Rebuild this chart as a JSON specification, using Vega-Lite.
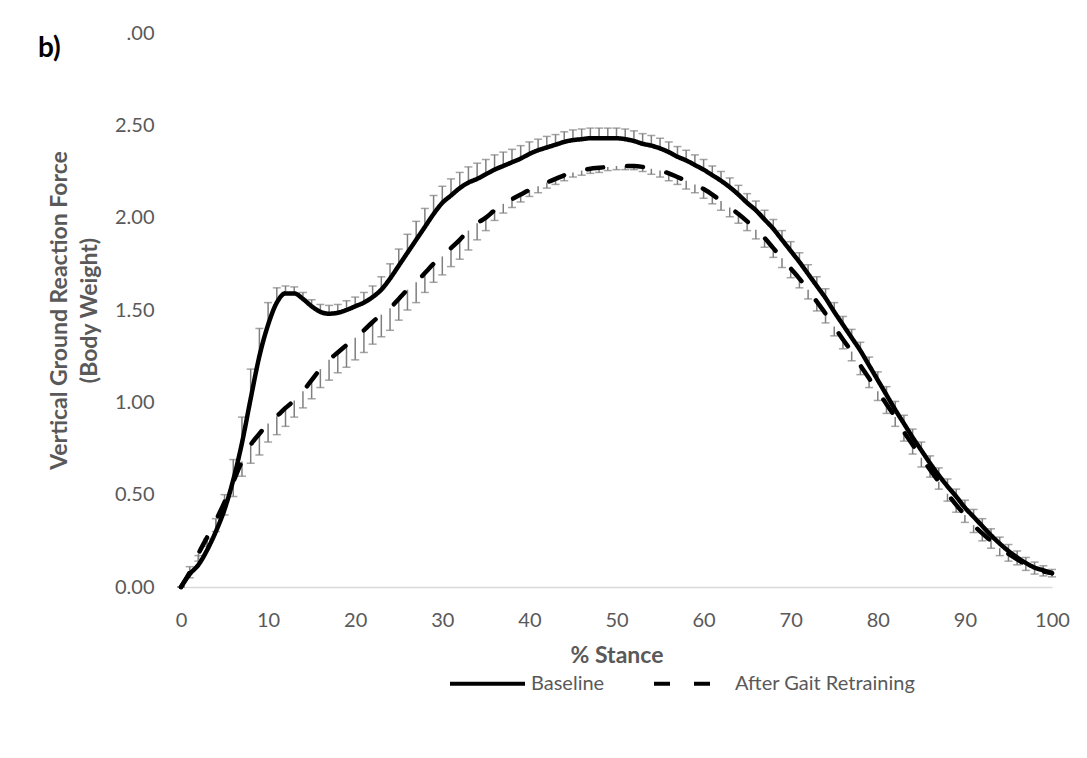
{
  "$schema": "https://vega.github.io/schema/vega-lite/v6.json",
  "width": 871,
  "height": 554,
  "autosize": {"type": "none"},
  "padding": {"left": 181, "top": 33, "right": 35, "bottom": 171},
  "background": "white",
  "config": {"view": {"stroke": null}, "font": "Lato"},
  "title": {"text": "b)", "anchor": "start", "frame": "group", "orient": "top", "offset": 0, "baseline": "alphabetic", "dx": -143, "dy": 62, "fontSize": 28, "fontWeight": "bold", "color": "#000000", "font": "Lato"},
  "datasets": {
    "grf": [
      {"pct":0,"series":"Baseline","force":0.00,"sd":0},
      {"pct":1,"series":"Baseline","force":0.07,"sd":0.04},
      {"pct":2,"series":"Baseline","force":0.12,"sd":0.05},
      {"pct":3,"series":"Baseline","force":0.20,"sd":0.06},
      {"pct":4,"series":"Baseline","force":0.30,"sd":0.07},
      {"pct":5,"series":"Baseline","force":0.42,"sd":0.08},
      {"pct":6,"series":"Baseline","force":0.58,"sd":0.11},
      {"pct":7,"series":"Baseline","force":0.78,"sd":0.14},
      {"pct":8,"series":"Baseline","force":1.02,"sd":0.16},
      {"pct":9,"series":"Baseline","force":1.25,"sd":0.15},
      {"pct":10,"series":"Baseline","force":1.42,"sd":0.12},
      {"pct":11,"series":"Baseline","force":1.54,"sd":0.08},
      {"pct":12,"series":"Baseline","force":1.59,"sd":0.04},
      {"pct":13,"series":"Baseline","force":1.59,"sd":0.035},
      {"pct":14,"series":"Baseline","force":1.56,"sd":0.035},
      {"pct":15,"series":"Baseline","force":1.52,"sd":0.035},
      {"pct":16,"series":"Baseline","force":1.49,"sd":0.04},
      {"pct":17,"series":"Baseline","force":1.48,"sd":0.045},
      {"pct":18,"series":"Baseline","force":1.485,"sd":0.045},
      {"pct":19,"series":"Baseline","force":1.50,"sd":0.05},
      {"pct":20,"series":"Baseline","force":1.52,"sd":0.05},
      {"pct":21,"series":"Baseline","force":1.54,"sd":0.055},
      {"pct":22,"series":"Baseline","force":1.57,"sd":0.06},
      {"pct":23,"series":"Baseline","force":1.61,"sd":0.07},
      {"pct":24,"series":"Baseline","force":1.67,"sd":0.08},
      {"pct":25,"series":"Baseline","force":1.74,"sd":0.09},
      {"pct":26,"series":"Baseline","force":1.81,"sd":0.10},
      {"pct":27,"series":"Baseline","force":1.88,"sd":0.10},
      {"pct":28,"series":"Baseline","force":1.95,"sd":0.10},
      {"pct":29,"series":"Baseline","force":2.02,"sd":0.10},
      {"pct":30,"series":"Baseline","force":2.08,"sd":0.09},
      {"pct":31,"series":"Baseline","force":2.12,"sd":0.09},
      {"pct":32,"series":"Baseline","force":2.16,"sd":0.085},
      {"pct":33,"series":"Baseline","force":2.19,"sd":0.085},
      {"pct":34,"series":"Baseline","force":2.21,"sd":0.085},
      {"pct":35,"series":"Baseline","force":2.235,"sd":0.08},
      {"pct":36,"series":"Baseline","force":2.26,"sd":0.08},
      {"pct":37,"series":"Baseline","force":2.28,"sd":0.075},
      {"pct":38,"series":"Baseline","force":2.30,"sd":0.07},
      {"pct":39,"series":"Baseline","force":2.32,"sd":0.07},
      {"pct":40,"series":"Baseline","force":2.345,"sd":0.065},
      {"pct":41,"series":"Baseline","force":2.365,"sd":0.06},
      {"pct":42,"series":"Baseline","force":2.38,"sd":0.06},
      {"pct":43,"series":"Baseline","force":2.395,"sd":0.055},
      {"pct":44,"series":"Baseline","force":2.41,"sd":0.055},
      {"pct":45,"series":"Baseline","force":2.42,"sd":0.055},
      {"pct":46,"series":"Baseline","force":2.425,"sd":0.055},
      {"pct":47,"series":"Baseline","force":2.43,"sd":0.055},
      {"pct":48,"series":"Baseline","force":2.43,"sd":0.055},
      {"pct":49,"series":"Baseline","force":2.43,"sd":0.055},
      {"pct":50,"series":"Baseline","force":2.43,"sd":0.055},
      {"pct":51,"series":"Baseline","force":2.425,"sd":0.055},
      {"pct":52,"series":"Baseline","force":2.415,"sd":0.055},
      {"pct":53,"series":"Baseline","force":2.40,"sd":0.055},
      {"pct":54,"series":"Baseline","force":2.39,"sd":0.055},
      {"pct":55,"series":"Baseline","force":2.375,"sd":0.055},
      {"pct":56,"series":"Baseline","force":2.355,"sd":0.055},
      {"pct":57,"series":"Baseline","force":2.33,"sd":0.055},
      {"pct":58,"series":"Baseline","force":2.31,"sd":0.055},
      {"pct":59,"series":"Baseline","force":2.285,"sd":0.055},
      {"pct":60,"series":"Baseline","force":2.26,"sd":0.055},
      {"pct":61,"series":"Baseline","force":2.23,"sd":0.05},
      {"pct":62,"series":"Baseline","force":2.20,"sd":0.05},
      {"pct":63,"series":"Baseline","force":2.165,"sd":0.05},
      {"pct":64,"series":"Baseline","force":2.125,"sd":0.05},
      {"pct":65,"series":"Baseline","force":2.08,"sd":0.05},
      {"pct":66,"series":"Baseline","force":2.04,"sd":0.05},
      {"pct":67,"series":"Baseline","force":1.99,"sd":0.05},
      {"pct":68,"series":"Baseline","force":1.94,"sd":0.05},
      {"pct":69,"series":"Baseline","force":1.88,"sd":0.05},
      {"pct":70,"series":"Baseline","force":1.82,"sd":0.05},
      {"pct":71,"series":"Baseline","force":1.76,"sd":0.05},
      {"pct":72,"series":"Baseline","force":1.695,"sd":0.05},
      {"pct":73,"series":"Baseline","force":1.63,"sd":0.05},
      {"pct":74,"series":"Baseline","force":1.565,"sd":0.05},
      {"pct":75,"series":"Baseline","force":1.49,"sd":0.05},
      {"pct":76,"series":"Baseline","force":1.42,"sd":0.045},
      {"pct":77,"series":"Baseline","force":1.35,"sd":0.045},
      {"pct":78,"series":"Baseline","force":1.28,"sd":0.045},
      {"pct":79,"series":"Baseline","force":1.20,"sd":0.045},
      {"pct":80,"series":"Baseline","force":1.12,"sd":0.045},
      {"pct":81,"series":"Baseline","force":1.04,"sd":0.045},
      {"pct":82,"series":"Baseline","force":0.96,"sd":0.045},
      {"pct":83,"series":"Baseline","force":0.885,"sd":0.045},
      {"pct":84,"series":"Baseline","force":0.81,"sd":0.045},
      {"pct":85,"series":"Baseline","force":0.74,"sd":0.045},
      {"pct":86,"series":"Baseline","force":0.67,"sd":0.04},
      {"pct":87,"series":"Baseline","force":0.605,"sd":0.04},
      {"pct":88,"series":"Baseline","force":0.545,"sd":0.04},
      {"pct":89,"series":"Baseline","force":0.49,"sd":0.04},
      {"pct":90,"series":"Baseline","force":0.43,"sd":0.04},
      {"pct":91,"series":"Baseline","force":0.38,"sd":0.04},
      {"pct":92,"series":"Baseline","force":0.33,"sd":0.04},
      {"pct":93,"series":"Baseline","force":0.28,"sd":0.035},
      {"pct":94,"series":"Baseline","force":0.235,"sd":0.035},
      {"pct":95,"series":"Baseline","force":0.195,"sd":0.035},
      {"pct":96,"series":"Baseline","force":0.16,"sd":0.035},
      {"pct":97,"series":"Baseline","force":0.13,"sd":0.03},
      {"pct":98,"series":"Baseline","force":0.105,"sd":0.03},
      {"pct":99,"series":"Baseline","force":0.09,"sd":0.025},
      {"pct":100,"series":"Baseline","force":0.075,"sd":0.02},
      {"pct":0,"series":"After Gait Retraining","force":0.00,"sd":0},
      {"pct":1,"series":"After Gait Retraining","force":0.08,"sd":0.03},
      {"pct":2,"series":"After Gait Retraining","force":0.18,"sd":0.04},
      {"pct":3,"series":"After Gait Retraining","force":0.27,"sd":0.05},
      {"pct":4,"series":"After Gait Retraining","force":0.36,"sd":0.06},
      {"pct":5,"series":"After Gait Retraining","force":0.46,"sd":0.07},
      {"pct":6,"series":"After Gait Retraining","force":0.57,"sd":0.08},
      {"pct":7,"series":"After Gait Retraining","force":0.68,"sd":0.08},
      {"pct":8,"series":"After Gait Retraining","force":0.77,"sd":0.10},
      {"pct":9,"series":"After Gait Retraining","force":0.83,"sd":0.115},
      {"pct":10,"series":"After Gait Retraining","force":0.885,"sd":0.10},
      {"pct":11,"series":"After Gait Retraining","force":0.925,"sd":0.10},
      {"pct":12,"series":"After Gait Retraining","force":0.97,"sd":0.10},
      {"pct":13,"series":"After Gait Retraining","force":1.01,"sd":0.09},
      {"pct":14,"series":"After Gait Retraining","force":1.06,"sd":0.09},
      {"pct":15,"series":"After Gait Retraining","force":1.12,"sd":0.10},
      {"pct":16,"series":"After Gait Retraining","force":1.18,"sd":0.10},
      {"pct":17,"series":"After Gait Retraining","force":1.23,"sd":0.11},
      {"pct":18,"series":"After Gait Retraining","force":1.27,"sd":0.11},
      {"pct":19,"series":"After Gait Retraining","force":1.31,"sd":0.12},
      {"pct":20,"series":"After Gait Retraining","force":1.35,"sd":0.12},
      {"pct":21,"series":"After Gait Retraining","force":1.39,"sd":0.12},
      {"pct":22,"series":"After Gait Retraining","force":1.435,"sd":0.12},
      {"pct":23,"series":"After Gait Retraining","force":1.475,"sd":0.12},
      {"pct":24,"series":"After Gait Retraining","force":1.51,"sd":0.12},
      {"pct":25,"series":"After Gait Retraining","force":1.56,"sd":0.115},
      {"pct":26,"series":"After Gait Retraining","force":1.61,"sd":0.11},
      {"pct":27,"series":"After Gait Retraining","force":1.65,"sd":0.11},
      {"pct":28,"series":"After Gait Retraining","force":1.70,"sd":0.105},
      {"pct":29,"series":"After Gait Retraining","force":1.75,"sd":0.10},
      {"pct":30,"series":"After Gait Retraining","force":1.79,"sd":0.10},
      {"pct":31,"series":"After Gait Retraining","force":1.835,"sd":0.10},
      {"pct":32,"series":"After Gait Retraining","force":1.88,"sd":0.105},
      {"pct":33,"series":"After Gait Retraining","force":1.93,"sd":0.105},
      {"pct":34,"series":"After Gait Retraining","force":1.97,"sd":0.09},
      {"pct":35,"series":"After Gait Retraining","force":2.00,"sd":0.07},
      {"pct":36,"series":"After Gait Retraining","force":2.04,"sd":0.055},
      {"pct":37,"series":"After Gait Retraining","force":2.075,"sd":0.05},
      {"pct":38,"series":"After Gait Retraining","force":2.10,"sd":0.045},
      {"pct":39,"series":"After Gait Retraining","force":2.125,"sd":0.04},
      {"pct":40,"series":"After Gait Retraining","force":2.15,"sd":0.035},
      {"pct":41,"series":"After Gait Retraining","force":2.17,"sd":0.035},
      {"pct":42,"series":"After Gait Retraining","force":2.19,"sd":0.03},
      {"pct":43,"series":"After Gait Retraining","force":2.21,"sd":0.03},
      {"pct":44,"series":"After Gait Retraining","force":2.23,"sd":0.03},
      {"pct":45,"series":"After Gait Retraining","force":2.245,"sd":0.025},
      {"pct":46,"series":"After Gait Retraining","force":2.255,"sd":0.025},
      {"pct":47,"series":"After Gait Retraining","force":2.265,"sd":0.025},
      {"pct":48,"series":"After Gait Retraining","force":2.27,"sd":0.025},
      {"pct":49,"series":"After Gait Retraining","force":2.275,"sd":0.02},
      {"pct":50,"series":"After Gait Retraining","force":2.28,"sd":0.02},
      {"pct":51,"series":"After Gait Retraining","force":2.28,"sd":0.02},
      {"pct":52,"series":"After Gait Retraining","force":2.28,"sd":0.02},
      {"pct":53,"series":"After Gait Retraining","force":2.275,"sd":0.025},
      {"pct":54,"series":"After Gait Retraining","force":2.265,"sd":0.03},
      {"pct":55,"series":"After Gait Retraining","force":2.255,"sd":0.035},
      {"pct":56,"series":"After Gait Retraining","force":2.24,"sd":0.04},
      {"pct":57,"series":"After Gait Retraining","force":2.22,"sd":0.04},
      {"pct":58,"series":"After Gait Retraining","force":2.20,"sd":0.045},
      {"pct":59,"series":"After Gait Retraining","force":2.18,"sd":0.045},
      {"pct":60,"series":"After Gait Retraining","force":2.155,"sd":0.05},
      {"pct":61,"series":"After Gait Retraining","force":2.125,"sd":0.05},
      {"pct":62,"series":"After Gait Retraining","force":2.09,"sd":0.05},
      {"pct":63,"series":"After Gait Retraining","force":2.055,"sd":0.05},
      {"pct":64,"series":"After Gait Retraining","force":2.02,"sd":0.05},
      {"pct":65,"series":"After Gait Retraining","force":1.98,"sd":0.05},
      {"pct":66,"series":"After Gait Retraining","force":1.935,"sd":0.05},
      {"pct":67,"series":"After Gait Retraining","force":1.89,"sd":0.05},
      {"pct":68,"series":"After Gait Retraining","force":1.835,"sd":0.05},
      {"pct":69,"series":"After Gait Retraining","force":1.78,"sd":0.05},
      {"pct":70,"series":"After Gait Retraining","force":1.725,"sd":0.05},
      {"pct":71,"series":"After Gait Retraining","force":1.67,"sd":0.05},
      {"pct":72,"series":"After Gait Retraining","force":1.61,"sd":0.05},
      {"pct":73,"series":"After Gait Retraining","force":1.545,"sd":0.05},
      {"pct":74,"series":"After Gait Retraining","force":1.48,"sd":0.05},
      {"pct":75,"series":"After Gait Retraining","force":1.41,"sd":0.05},
      {"pct":76,"series":"After Gait Retraining","force":1.34,"sd":0.05},
      {"pct":77,"series":"After Gait Retraining","force":1.275,"sd":0.05},
      {"pct":78,"series":"After Gait Retraining","force":1.20,"sd":0.05},
      {"pct":79,"series":"After Gait Retraining","force":1.13,"sd":0.05},
      {"pct":80,"series":"After Gait Retraining","force":1.06,"sd":0.05},
      {"pct":81,"series":"After Gait Retraining","force":0.99,"sd":0.05},
      {"pct":82,"series":"After Gait Retraining","force":0.92,"sd":0.05},
      {"pct":83,"series":"After Gait Retraining","force":0.84,"sd":0.05},
      {"pct":84,"series":"After Gait Retraining","force":0.77,"sd":0.05},
      {"pct":85,"series":"After Gait Retraining","force":0.70,"sd":0.05},
      {"pct":86,"series":"After Gait Retraining","force":0.635,"sd":0.04},
      {"pct":87,"series":"After Gait Retraining","force":0.57,"sd":0.04},
      {"pct":88,"series":"After Gait Retraining","force":0.505,"sd":0.04},
      {"pct":89,"series":"After Gait Retraining","force":0.445,"sd":0.04},
      {"pct":90,"series":"After Gait Retraining","force":0.39,"sd":0.04},
      {"pct":91,"series":"After Gait Retraining","force":0.335,"sd":0.04},
      {"pct":92,"series":"After Gait Retraining","force":0.29,"sd":0.04},
      {"pct":93,"series":"After Gait Retraining","force":0.25,"sd":0.04},
      {"pct":94,"series":"After Gait Retraining","force":0.21,"sd":0.04},
      {"pct":95,"series":"After Gait Retraining","force":0.18,"sd":0.04},
      {"pct":96,"series":"After Gait Retraining","force":0.15,"sd":0.03},
      {"pct":97,"series":"After Gait Retraining","force":0.12,"sd":0.03},
      {"pct":98,"series":"After Gait Retraining","force":0.10,"sd":0.03},
      {"pct":99,"series":"After Gait Retraining","force":0.085,"sd":0.025},
      {"pct":100,"series":"After Gait Retraining","force":0.075,"sd":0.02}
    ]
  },
  "data": {"name": "grf"},
  "transform": [
    {"calculate": "datum.series == 'Baseline' ? datum.force + datum.sd : datum.force - datum.sd", "as": "errEnd"}
  ],
  "encoding": {
    "x": {
      "field": "pct", "type": "quantitative",
      "scale": {"domain": [0, 100], "nice": false, "zero": false},
      "axis": {
        "values": [0, 10, 20, 30, 40, 50, 60, 70, 80, 90, 100],
        "title": "% Stance", "grid": false, "ticks": false, "tickSize": 0,
        "domainColor": "#d9d9d9", "domainWidth": 1.5,
        "labelFontSize": 20, "labelColor": "#595959", "labelPadding": 23, "labelFlush": false,
        "titleFontSize": 23, "titleFontWeight": "bold", "titleColor": "#595959", "titlePadding": 14
      }
    }
  },
  "layer": [
    {
      "mark": {"type": "rule", "color": "#7f7f7f", "strokeWidth": 1.5},
      "encoding": {
        "y": {
          "field": "force", "type": "quantitative",
          "scale": {"domain": [0, 3], "nice": false},
          "axis": {
            "values": [0, 0.5, 1, 1.5, 2, 2.5, 3],
            "labelExpr": "datum.value == 3 ? '.00' : format(datum.value, '.2f')",
            "domain": false, "ticks": false, "tickSize": 0, "grid": false,
            "labelPadding": 27, "labelFontSize": 20, "labelColor": "#595959", "labelFlush": false,
            "title": ["Vertical Ground Reaction Force", "(Body Weight)"],
            "titleFontSize": 23, "titleFontWeight": "bold", "titleColor": "#595959",
            "titlePadding": 13, "titleLineHeight": 30
          }
        },
        "y2": {"field": "errEnd"},
        "detail": {"field": "series", "type": "nominal"}
      }
    },
    {
      "mark": {"type": "tick", "orient": "horizontal", "color": "#7f7f7f", "size": 8, "thickness": 1.5},
      "encoding": {
        "y": {
          "field": "errEnd", "type": "quantitative",
          "scale": {"domain": [0, 3], "nice": false},
          "axis": {
            "values": [0, 0.5, 1, 1.5, 2, 2.5, 3],
            "labelExpr": "datum.value == 3 ? '.00' : format(datum.value, '.2f')",
            "domain": false, "ticks": false, "tickSize": 0, "grid": false,
            "labelPadding": 27, "labelFontSize": 20, "labelColor": "#595959", "labelFlush": false,
            "title": ["Vertical Ground Reaction Force", "(Body Weight)"],
            "titleFontSize": 23, "titleFontWeight": "bold", "titleColor": "#595959",
            "titlePadding": 13, "titleLineHeight": 30
          }
        },
        "detail": {"field": "series", "type": "nominal"}
      }
    },
    {
      "mark": {"type": "line", "color": "#000000", "strokeWidth": 4.5, "strokeCap": "round", "interpolate": "monotone"},
      "encoding": {
        "y": {
          "field": "force", "type": "quantitative",
          "scale": {"domain": [0, 3], "nice": false},
          "axis": {
            "values": [0, 0.5, 1, 1.5, 2, 2.5, 3],
            "labelExpr": "datum.value == 3 ? '.00' : format(datum.value, '.2f')",
            "domain": false, "ticks": false, "tickSize": 0, "grid": false,
            "labelPadding": 27, "labelFontSize": 20, "labelColor": "#595959", "labelFlush": false,
            "title": ["Vertical Ground Reaction Force", "(Body Weight)"],
            "titleFontSize": 23, "titleFontWeight": "bold", "titleColor": "#595959",
            "titlePadding": 13, "titleLineHeight": 30
          }
        },
        "strokeDash": {
          "field": "series", "type": "nominal",
          "scale": {"domain": ["Baseline", "After Gait Retraining"], "range": [[1, 0], [16, 24]]},
          "legend": {
            "title": null, "orient": "none", "legendX": 267, "legendY": 611,
            "direction": "horizontal", "symbolType": "stroke", "symbolSize": 5625,
            "symbolStrokeWidth": 4, "symbolStrokeColor": "#000000",
            "labelFontSize": 20, "labelColor": "#595959", "labelOffset": 4, "labelLimit": 400,
            "columnPadding": 41
          }
        }
      }
    }
  ]
}
